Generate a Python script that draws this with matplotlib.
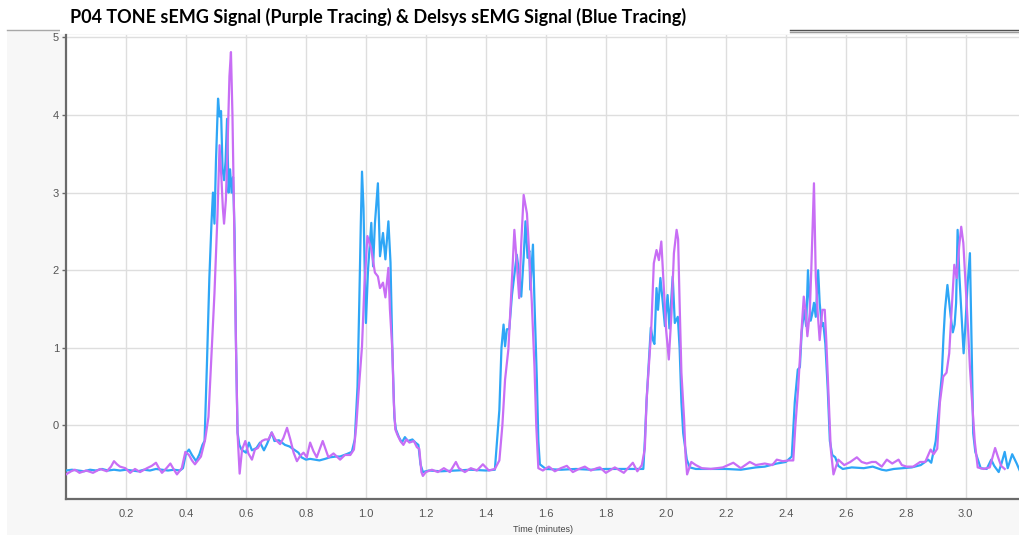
import matplotlib
matplotlib.use("Agg")
import matplotlib.pyplot as plt
from matplotlib.patches import Rectangle
from matplotlib.lines import Line2D

# ---- data: time in minutes, signal amplitude ----
delsys_t = [0.0, 0.02, 0.04, 0.06, 0.08, 0.10, 0.12, 0.14, 0.16, 0.18, 0.20, 0.22, 0.24, 0.26, 0.28,
            0.30, 0.32, 0.34, 0.36, 0.38, 0.39, 0.40, 0.41, 0.42, 0.434, 0.445, 0.455, 0.462, 0.47,
            0.478, 0.485, 0.49, 0.495, 0.50, 0.507, 0.512, 0.517, 0.522, 0.527, 0.532, 0.537, 0.542,
            0.547, 0.552, 0.557, 0.562, 0.567, 0.572, 0.578, 0.585, 0.60, 0.61, 0.62, 0.635, 0.647,
            0.66, 0.67, 0.686, 0.695, 0.71, 0.73, 0.745, 0.76, 0.775, 0.785, 0.80, 0.814, 0.83,
            0.845, 0.864, 0.88, 0.90, 0.914, 0.935, 0.953, 0.963, 0.972, 0.978, 0.983, 0.987,
            0.992, 0.997, 1.000, 1.007, 1.018, 1.024, 1.030, 1.040, 1.047, 1.057, 1.065, 1.075,
            1.082, 1.088, 1.095, 1.100, 1.11, 1.12, 1.13, 1.14, 1.155, 1.165, 1.175, 1.182, 1.19,
            1.21, 1.25, 1.30, 1.35, 1.40, 1.43, 1.445, 1.452, 1.459, 1.464, 1.47, 1.478, 1.487,
            1.492, 1.503, 1.511, 1.518, 1.526, 1.532, 1.539, 1.545, 1.548, 1.557, 1.562, 1.57,
            1.575, 1.58, 1.60, 1.65, 1.70, 1.75, 1.80, 1.85, 1.90, 1.925, 1.93, 1.936, 1.95, 1.957,
            1.962, 1.969, 1.974, 1.982, 1.990, 1.997, 2.006, 2.012, 2.023, 2.030, 2.040, 2.046,
            2.052, 2.058, 2.07, 2.08, 2.10, 2.15, 2.20, 2.25, 2.30, 2.33, 2.37, 2.40, 2.42, 2.43,
            2.44, 2.447, 2.453, 2.461, 2.468, 2.474, 2.483, 2.489, 2.494, 2.50, 2.508, 2.513, 2.52,
            2.525, 2.532, 2.54, 2.547, 2.555, 2.565, 2.575, 2.59, 2.62, 2.66, 2.69, 2.72, 2.735,
            2.76, 2.82, 2.85, 2.875, 2.885, 2.90, 2.92, 2.926, 2.931, 2.939, 2.945, 2.95, 2.957,
            2.963, 2.968, 2.973, 2.979, 2.985, 2.993, 2.998, 3.006, 3.014, 3.02, 3.025, 3.032,
            3.05, 3.07, 3.085, 3.095, 3.11, 3.12, 3.13, 3.14, 3.155, 3.17, 3.18]
delsys_v = [-0.58, -0.57, -0.58, -0.59, -0.57, -0.58, -0.56, -0.58, -0.57, -0.58, -0.57, -0.58,
            -0.59, -0.57, -0.58, -0.56, -0.57, -0.58, -0.57, -0.58, -0.55, -0.36, -0.31, -0.38,
            -0.46, -0.37, -0.25, -0.20, 0.80, 1.90, 2.60, 3.00, 2.60, 3.40, 4.21, 3.98, 4.05, 3.30,
            3.16, 3.40, 3.95, 3.00, 3.30, 3.00, 3.20, 2.50, 1.00, -0.09, -0.25, -0.31, -0.35,
            -0.22, -0.32, -0.29, -0.22, -0.32, -0.24, -0.09, -0.20, -0.19, -0.25, -0.27, -0.31,
            -0.35, -0.41, -0.44, -0.43, -0.44, -0.45, -0.43, -0.41, -0.40, -0.40, -0.37, -0.34,
            -0.18, 0.50, 1.60, 2.60, 3.27, 2.80, 1.80, 1.32, 2.00, 2.61, 2.05, 2.60, 3.12, 2.18,
            2.48, 2.14, 2.63, 2.10, 1.00, 0.10, -0.05, -0.15, -0.22, -0.15, -0.20, -0.18, -0.22,
            -0.25, -0.50, -0.60, -0.58, -0.59, -0.58, -0.57, -0.58, -0.57, 0.20, 1.00, 1.30, 1.02,
            1.24, 1.24, 1.68, 1.84, 2.20, 1.96, 1.66, 2.16, 2.63, 2.16, 2.25, 1.75, 2.33, 1.60,
            0.59, -0.20, -0.50, -0.56, -0.57, -0.56, -0.57, -0.56, -0.56, -0.56, -0.56, -0.20,
            0.33, 1.26, 1.10, 1.05, 1.77, 1.49, 1.90, 1.58, 1.28, 1.68, 1.25, 1.92, 1.32, 1.40,
            1.00, 0.30, -0.10, -0.44, -0.54, -0.56, -0.56, -0.56, -0.57, -0.54, -0.53, -0.49,
            -0.47, -0.40, 0.30, 0.72, 0.75, 1.20, 1.49, 1.28, 2.00, 1.35, 1.45, 1.58, 1.40, 2.00,
            1.58, 1.28, 1.32, 1.05, 0.46, -0.20, -0.38, -0.41, -0.52, -0.56, -0.54, -0.55, -0.53,
            -0.57, -0.58, -0.56, -0.54, -0.51, -0.44, -0.48, -0.20, 0.63, 1.15, 1.49, 1.81, 1.58,
            1.40, 1.20, 1.30, 1.58, 2.52, 1.92, 1.50, 0.93, 1.23, 1.80, 2.22, 0.93, -0.10, -0.34,
            -0.55, -0.56, -0.44, -0.52, -0.60, -0.48, -0.34, -0.55, -0.37, -0.49, -0.58]

tone_t = [0.0, 0.017, 0.03, 0.045, 0.067, 0.09, 0.114, 0.136, 0.150, 0.160, 0.170, 0.180, 0.198,
          0.214, 0.23, 0.247, 0.27, 0.286, 0.30, 0.31, 0.32, 0.335, 0.348, 0.36, 0.37, 0.386,
          0.398, 0.41, 0.42, 0.43, 0.44, 0.45, 0.464, 0.475, 0.485, 0.495, 0.505, 0.512, 0.518,
          0.523, 0.527, 0.533, 0.538, 0.545, 0.550, 0.555, 0.560, 0.566, 0.572, 0.579, 0.587,
          0.598, 0.608, 0.62, 0.63, 0.64, 0.653, 0.664, 0.675, 0.686, 0.698, 0.714, 0.725,
          0.737, 0.748, 0.759, 0.77, 0.781, 0.792, 0.803, 0.814, 0.825, 0.836, 0.856, 0.875,
          0.892, 0.914, 0.93, 0.948, 0.96, 0.968, 0.975, 0.987, 0.995, 1.005, 1.018, 1.030,
          1.040, 1.047, 1.057, 1.065, 1.075, 1.080, 1.088, 1.093, 1.098, 1.105, 1.115, 1.125,
          1.135, 1.145, 1.16, 1.17, 1.178, 1.185, 1.19, 1.20, 1.22, 1.24, 1.26, 1.28, 1.30,
          1.31, 1.33, 1.35, 1.37, 1.39, 1.41, 1.43, 1.445, 1.455, 1.464, 1.475, 1.487, 1.495,
          1.503, 1.511, 1.518, 1.526, 1.537, 1.545, 1.553, 1.562, 1.568, 1.575, 1.59, 1.61,
          1.63, 1.65, 1.67, 1.69, 1.71, 1.73, 1.75, 1.77, 1.78, 1.80, 1.83, 1.86, 1.89, 1.905,
          1.92, 1.93, 1.936, 1.951, 1.96, 1.969, 1.977, 1.985, 1.993, 2.001, 2.010, 2.019,
          2.027, 2.036, 2.041, 2.046, 2.052, 2.061, 2.066, 2.071, 2.085, 2.10, 2.12, 2.15,
          2.19, 2.225, 2.25, 2.28, 2.30, 2.33, 2.355, 2.37, 2.39, 2.41, 2.425, 2.432, 2.441,
          2.452, 2.46, 2.466, 2.472, 2.48, 2.485, 2.494, 2.50, 2.506, 2.513, 2.522, 2.53,
          2.535, 2.542, 2.55, 2.559, 2.575, 2.595, 2.615, 2.637, 2.653, 2.67, 2.687, 2.70,
          2.72, 2.737, 2.755, 2.776, 2.787, 2.803, 2.825, 2.848, 2.865, 2.883, 2.893, 2.905,
          2.914, 2.925, 2.936, 2.945, 2.953, 2.962, 2.97, 2.978, 2.985, 2.992, 3.0, 3.008,
          3.014, 3.02, 3.03, 3.04, 3.06, 3.08, 3.098, 3.108, 3.118, 3.13]
tone_v = [-0.63, -0.59, -0.57, -0.61, -0.58, -0.61, -0.56, -0.59, -0.53, -0.46, -0.50, -0.53,
          -0.55, -0.61, -0.56, -0.60, -0.55, -0.52, -0.48, -0.55, -0.61, -0.55, -0.49, -0.57,
          -0.63, -0.55, -0.34, -0.38, -0.45, -0.50, -0.45, -0.40, -0.18, 0.11, 0.90, 1.70,
          2.70, 3.61, 3.20, 2.80, 2.60, 2.90, 3.50, 4.50, 4.81, 4.00, 2.80, 1.20, -0.10, -0.62,
          -0.31, -0.20, -0.36, -0.44, -0.31, -0.29, -0.20, -0.18, -0.18, -0.09, -0.18, -0.24,
          -0.16, -0.03, -0.18, -0.35, -0.46, -0.39, -0.35, -0.41, -0.22, -0.33, -0.41, -0.20,
          -0.41, -0.36, -0.44, -0.38, -0.38, -0.31, 0.00, 0.40, 1.02, 1.80, 2.44, 2.27, 1.97,
          1.92, 1.77, 1.84, 1.65, 2.03, 1.50, 0.98, 0.30, -0.05, -0.12, -0.20, -0.25, -0.18,
          -0.22, -0.20, -0.28, -0.30, -0.60, -0.65, -0.60, -0.57, -0.60, -0.55, -0.60, -0.47,
          -0.55, -0.60, -0.55, -0.58, -0.50, -0.58, -0.56, -0.45, 0.00, 0.59, 0.98, 1.88, 2.52,
          2.10, 1.64, 2.35, 2.97, 2.73, 2.18, 1.60, 0.76, 0.00, -0.55, -0.58, -0.53, -0.59,
          -0.55, -0.52, -0.60, -0.56, -0.53, -0.58, -0.55, -0.54, -0.61, -0.54, -0.61, -0.48,
          -0.59, -0.51, -0.30, 0.33, 1.20, 2.09, 2.26, 2.13, 2.37, 1.79, 1.23, 0.85, 1.45, 2.22,
          2.52, 2.40, 1.58, 0.68, 0.08, -0.40, -0.63, -0.47, -0.51, -0.55, -0.56, -0.54, -0.48,
          -0.55, -0.47, -0.51, -0.49, -0.51, -0.44, -0.46, -0.45, -0.45, 0.00, 0.46, 1.19,
          1.66, 1.48, 1.15, 1.45, 2.00, 3.12, 1.92, 1.48, 1.10, 1.49, 1.49, 1.10, 0.46, -0.30,
          -0.63, -0.44, -0.51, -0.47, -0.41, -0.47, -0.49, -0.47, -0.47, -0.53, -0.44, -0.49,
          -0.44, -0.51, -0.53, -0.53, -0.47, -0.47, -0.31, -0.37, -0.30, 0.30, 0.63, 0.68,
          0.93, 1.49, 2.07, 1.90, 2.30, 2.56, 2.35, 1.80, 1.23, 0.75, 0.38, -0.20, -0.54, -0.56,
          -0.54, -0.29, -0.41, -0.52, -0.56]

x_ticks = [0.2, 0.4, 0.6, 0.8, 1.0, 1.2, 1.4, 1.6, 1.8, 2.0, 2.2, 2.4, 2.6, 2.8, 3.0]
x_tick_labels = ["0.2", "0.4", "0.6", "0.8", "1.0", "1.2", "1.4", "1.6", "1.8", "2.0",
                 "2.2", "2.4", "2.6", "2.8", "3.0"]
y_ticks = [0, 1, 2, 3, 4, 5]

title = "P04 TONE sEMG Signal (Purple Tracing) & Delsys sEMG Signal (Blue Tracing)"
x_label = "Time (minutes)"

# ---- figure ----
W, H = 1020, 539
fig = plt.figure(figsize=(W / 100, H / 100), dpi=100)
fig.patch.set_facecolor("white")


def fx(px):
    return px / W


def fy(py):
    return 1 - py / H


# light grey chart panel behind the plot area
fig.add_artist(Rectangle((fx(7), fy(535)), fx(1020) - fx(7), fy(29.5) - fy(535),
                         transform=fig.transFigure, facecolor="#f7f7f7",
                         edgecolor="none", zorder=-2))
fig.add_artist(Line2D([fx(7), fx(60)], [fy(29.5), fy(29.5)], transform=fig.transFigure,
                      color="#a8a8a8", lw=1.0, zorder=-1))
# white title strip
fig.add_artist(Rectangle((fx(60), fy(34)), fx(790) - fx(60), fy(0) - fy(34),
                         transform=fig.transFigure, facecolor="white",
                         edgecolor="none", zorder=-1))
# double rule at top right
fig.add_artist(Line2D([fx(790), fx(1020)], [fy(29.8), fy(29.8)], transform=fig.transFigure,
                      color="#505050", lw=1.0))
fig.add_artist(Line2D([fx(790), fx(1020)], [fy(31.8), fy(31.8)], transform=fig.transFigure,
                      color="#9a9a9a", lw=1.0))

ax = fig.add_axes([fx(66), fy(499), fx(1020) - fx(66), fy(35) - fy(499)])
ax.set_facecolor("white")

ax.plot(delsys_t, delsys_v, color="#2ea6f6", lw=1.6, zorder=3)
ax.plot(tone_t, tone_v, color="#c86ef5", lw=1.6, zorder=4)

ax.set_xlim(0, (1020 - 65.7) / 300)
ax.set_ylim(-0.947, 5.03)

ax.set_xticks(x_ticks)
ax.set_xticklabels(x_tick_labels)
ax.set_yticks(y_ticks)

ax.grid(True, color="#dedede", lw=1.0)
ax.set_axisbelow(True)

for side in ("top", "right"):
    ax.spines[side].set_visible(False)
for side in ("left", "bottom"):
    ax.spines[side].set_color("#6a6a6a")
    ax.spines[side].set_linewidth(1.6)

ax.tick_params(axis="y", length=3, width=1, color="#6a6a6a", pad=2,
               labelsize=8, labelcolor="#555555")
ax.tick_params(axis="x", length=0, pad=7, labelsize=8, labelcolor="#555555")
for lab in ax.get_xticklabels() + ax.get_yticklabels():
    lab.set_fontfamily("Liberation Sans")

fig.text(fx(543), fy(530), x_label, ha="center", va="center", fontsize=6.5,
         color="#444444", family="Liberation Sans")
fig.text(fx(70), fy(17), title, ha="left", va="center", fontsize=13,
         fontweight="bold", color="black", family="Lato")

fig.savefig("out.png", dpi=100)
